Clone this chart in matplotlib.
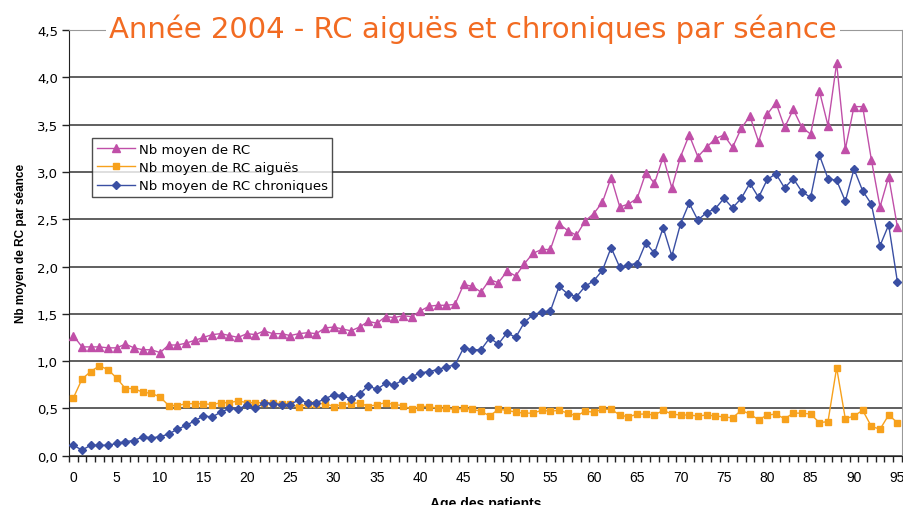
import numpy as np
import matplotlib
matplotlib.use("Agg")
import matplotlib.pyplot as plt
from matplotlib.ticker import FuncFormatter, MultipleLocator, FixedLocator

# ages 0..95
ages = list(range(96))

rc_total = [1.27, 1.15, 1.15, 1.15, 1.14, 1.14, 1.18, 1.14, 1.12, 1.12,
            1.09, 1.17, 1.17, 1.19, 1.22, 1.25, 1.28, 1.29, 1.27, 1.25,
            1.29, 1.28, 1.32, 1.29, 1.29, 1.27, 1.29, 1.30, 1.29, 1.35,
            1.36, 1.34, 1.32, 1.36, 1.42, 1.40, 1.47, 1.46, 1.48, 1.47,
            1.53, 1.58, 1.59, 1.59, 1.60, 1.81, 1.79, 1.73, 1.86, 1.83,
            1.95, 1.90, 2.03, 2.14, 2.18, 2.18, 2.45, 2.38, 2.33, 2.48,
            2.56, 2.68, 2.94, 2.63, 2.66, 2.72, 2.99, 2.88, 3.16, 2.83,
            3.16, 3.39, 3.16, 3.26, 3.35, 3.39, 3.26, 3.46, 3.59, 3.32,
            3.61, 3.73, 3.47, 3.66, 3.47, 3.40, 3.86, 3.49, 4.15, 3.24,
            3.69, 3.69, 3.13, 2.63, 2.95, 2.42]

rc_aigues = [0.61, 0.81, 0.89, 0.95, 0.91, 0.82, 0.71, 0.71, 0.67, 0.66,
             0.62, 0.53, 0.53, 0.55, 0.55, 0.55, 0.54, 0.56, 0.56, 0.58,
             0.56, 0.56, 0.56, 0.56, 0.55, 0.55, 0.51, 0.55, 0.55, 0.55,
             0.52, 0.54, 0.55, 0.56, 0.52, 0.54, 0.56, 0.54, 0.53, 0.49,
             0.52, 0.52, 0.50, 0.50, 0.49, 0.50, 0.49, 0.47, 0.42, 0.49,
             0.48, 0.46, 0.45, 0.45, 0.48, 0.47, 0.48, 0.45, 0.42, 0.47,
             0.46, 0.49, 0.49, 0.43, 0.41, 0.44, 0.44, 0.43, 0.48, 0.44,
             0.43, 0.43, 0.42, 0.43, 0.42, 0.41, 0.40, 0.48, 0.44, 0.38,
             0.43, 0.44, 0.39, 0.45, 0.45, 0.44, 0.35, 0.36, 0.93, 0.39,
             0.42, 0.48, 0.31, 0.28, 0.43, 0.35]

rc_chroniques = [0.11, 0.06, 0.11, 0.11, 0.11, 0.13, 0.15, 0.16, 0.20, 0.19,
                 0.20, 0.23, 0.28, 0.32, 0.37, 0.42, 0.41, 0.46, 0.50, 0.49,
                 0.54, 0.50, 0.56, 0.55, 0.54, 0.54, 0.59, 0.56, 0.56, 0.60,
                 0.645, 0.635, 0.60, 0.65, 0.74, 0.70, 0.765, 0.75, 0.80, 0.835,
                 0.875, 0.89, 0.91, 0.94, 0.96, 1.14, 1.12, 1.12, 1.245, 1.18,
                 1.30, 1.25, 1.41, 1.49, 1.52, 1.53, 1.79, 1.71, 1.68, 1.79,
                 1.85, 1.96, 2.20, 1.99, 2.02, 2.03, 2.25, 2.14, 2.41, 2.11,
                 2.45, 2.67, 2.49, 2.57, 2.61, 2.72, 2.62, 2.72, 2.88, 2.73,
                 2.92, 2.98, 2.83, 2.93, 2.79, 2.73, 3.18, 2.93, 2.91, 2.69,
                 3.03, 2.80, 2.66, 2.22, 2.44, 1.84]

labels = ["Nb moyen de RC", "Nb moyen de RC aiguës", "Nb moyen de RC chroniques"]
title = "Année 2004 - RC aiguës et chroniques par séance"

sans = ["Liberation Sans", "DejaVu Sans"]

fig = plt.figure(figsize=(9.04, 5.06), dpi=100)
ax = fig.add_axes([69 / 904, 49.3 / 506, 832.7 / 904, 425.7 / 506])

ax.plot(ages, rc_total, color="#c04fa8", lw=1.0, marker="^", ms=5.5,
        label=labels[0], zorder=3)
ax.plot(ages, rc_aigues, color="#f7a11c", lw=1.0, marker="s", ms=4.5,
        label=labels[1], zorder=3)
ax.plot(ages, rc_chroniques, color="#3a4fa3", lw=1.0, marker="D", ms=4.2,
        label=labels[2], zorder=4)

# category axis: tick marks between ages, labels every 5 years
ax.set_xlim(-0.5, 95.5)
ax.set_ylim(0, 4.5)
ax.yaxis.set_major_locator(MultipleLocator(0.5))
ax.xaxis.set_major_locator(MultipleLocator(5))
ax.xaxis.set_minor_locator(FixedLocator(np.arange(-0.5, 96, 1)))
ax.yaxis.set_major_formatter(FuncFormatter(lambda v, p: f"{v:.1f}".replace(".", ",")))
ax.grid(axis="y", color="#444444", lw=1.2, zorder=1)
ax.set_axisbelow(True)

ax.tick_params(axis="y", direction="out", length=5, width=1,
               color="#222222", labelsize=9.5, pad=3)
ax.tick_params(axis="x", which="major", length=0, pad=10, labelsize=10)
ax.tick_params(axis="x", which="minor", direction="out", length=4,
               width=1, color="#222222")
for t in ax.get_xticklabels():
    t.set_family(sans)
for t in ax.get_yticklabels():
    t.set_family(["DejaVu Sans"])

ax.spines["left"].set_color("#222222")
ax.spines["bottom"].set_color("#222222")
ax.spines["top"].set_color("#999999")
ax.spines["right"].set_color("#999999")

ax.set_ylabel("Nb moyen de RC par séance", fontsize=8.5, fontweight="bold",
              family=sans, labelpad=7)
ax.set_xlabel("Age des patients", fontsize=10, fontweight="bold",
              family=sans, labelpad=9)

leg = ax.legend(loc="upper left", bbox_to_anchor=(23 / 832.7, 1 - 108 / 425.7),
                frameon=True, fancybox=False, handlelength=2.9,
                borderpad=0.35, labelspacing=0.4, handletextpad=0.3,
                borderaxespad=0, prop={"family": ["DejaVu Sans"], "size": 9.5})
leg.get_frame().set_edgecolor("#222222")
leg.get_frame().set_linewidth(1.0)

fig.text(473 / 904, 1 - 38 / 506, title, ha="center", va="baseline",
         fontsize=21, color="#f26b22", family=["DejaVu Sans"],
         bbox=dict(facecolor="white", edgecolor="none", pad=2))

fig.savefig("out.png", dpi=100)
